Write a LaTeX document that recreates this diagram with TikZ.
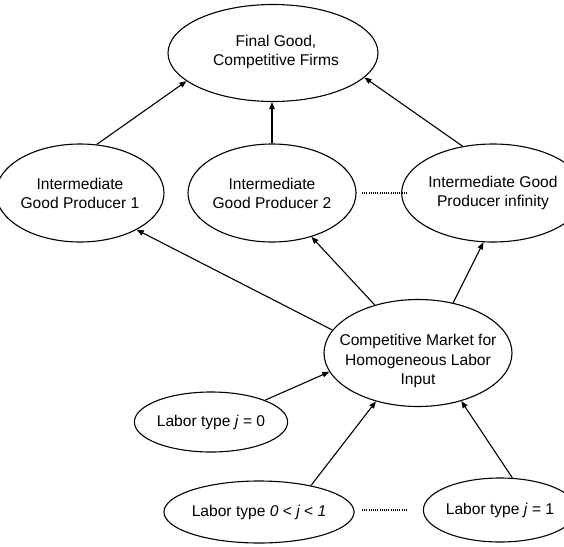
\documentclass[tikz,border=0pt]{standalone}
\usepackage{fontspec}
\setmainfont{Liberation Sans}
\usetikzlibrary{shapes.geometric,arrows.meta}
\begin{document}
\begin{tikzpicture}[x=1pt,y=-1pt,
  el/.style={draw, ellipse, line width=1.1pt, inner sep=0pt, align=center,
             font=\fontsize{15.6}{19}\selectfont},
  txt/.style={inner sep=0pt, align=center, font=\fontsize{15.6}{19.5}\selectfont},
  conn/.style={line width=1.1pt, -{Triangle[length=7pt,width=5.5pt]}},
  dotline/.style={line width=1.1pt, dash pattern=on 1pt off 1.2pt}]
\useasboundingbox (0,0) rectangle (564,546);

% nodes
\node[el, minimum width=210pt, minimum height=97pt] (final) at (273,53) {};
\node[txt] (finaltext) at (276,52) {Final Good,\\Competitive Firms};

\node[el, minimum width=146pt, minimum height=98pt] (igp1) at (80,193) {Intermediate\\Good Producer 1};
\node[el, minimum width=139pt, minimum height=98pt] (igp2) at (272,193) {Intermediate\\Good Producer 2};
\node[el, minimum width=140pt, minimum height=98pt] (igpinf) at (493,193) {Intermediate Good\\Producer infinity};

\node[el, minimum width=188pt, minimum height=107pt] (cm) at (418,353) {};
\node[txt] (cmtext) at (418,361) {Competitive Market for\\Homogeneous Labor\\Input};

\node[el, minimum width=134pt, minimum height=60pt] (j0) at (211,422) {Labor type \textit{j} = 0};
\node[el, minimum width=158pt, minimum height=62pt] (jmid) at (259,512) {Labor type \textit{0 {\normalfont<} j {\normalfont<} 1}};
\node[el, minimum width=126pt, minimum height=64pt] (j1) at (500,510) {Labor type \textit{j} = 1};

% dotted ellipses
\coordinate (d1a) at (362,193);
\coordinate (d1b) at (408,193);
\coordinate (d2a) at (362,510);
\coordinate (d2b) at (408,510);
\draw[dotline] (d1a) -- (d1b);
\draw[dotline] (d2a) -- (d2b);

% connectors
\draw[conn] (igp1.71) -- (final.198);
\draw[conn] (igp2.north) -- (igp2.north |- final.south);
\draw[conn] (igpinf.123) -- (final.345);

\draw[conn] (cm.165) -- (igp1.327);
\draw[conn] (cm.132) -- (igp2.312);
\draw[conn] (cm.55) -- (igpinf.259);

\draw[conn] (j0.22) -- (cm.192);
\draw[conn] (jmid.27) -- (cm.229);
\draw[conn] (j1.69) -- (cm.312);
\end{tikzpicture}
\end{document}
